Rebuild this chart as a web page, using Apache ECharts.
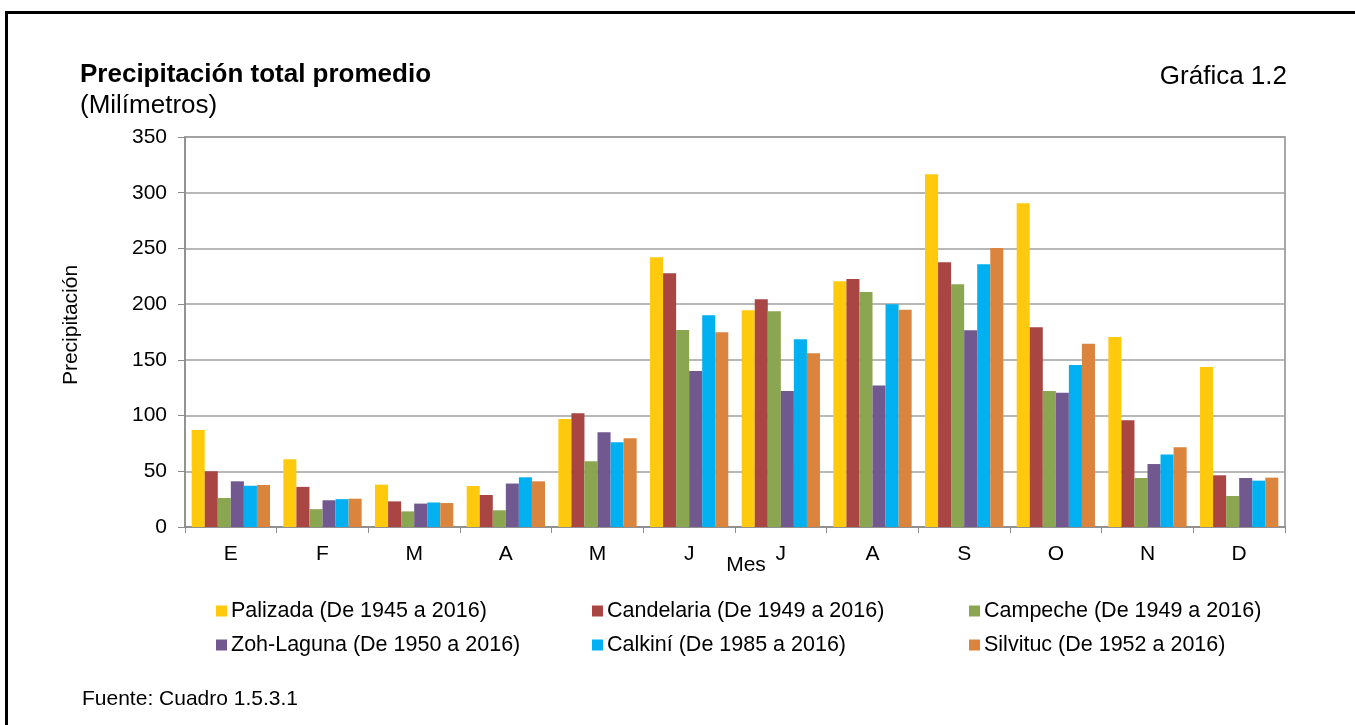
<!DOCTYPE html>
<html>
<head>
<meta charset="utf-8">
<script src="https://cdn.jsdelivr.net/npm/echarts@6/dist/echarts.min.js"></script>
<style>
  html, body { margin: 0; padding: 0; background: #fff; }
  #frame { position: absolute; left: 5px; top: 11px; width: 1400px; height: 800px; border-top: 3px solid #000; border-left: 3px solid #000; box-sizing: border-box; }
  #chart { position: absolute; left: 0; top: 0; width: 1355px; height: 725px; }
</style>
</head>
<body>
<div id="frame"></div>
<div id="chart"></div>
<script>
const months = ['E', 'F', 'M', 'A', 'M', 'J', 'J', 'A', 'S', 'O', 'N', 'D'];
const palizada   = [87, 60.7, 38, 36.8, 97, 242, 194.5, 220.5, 316.5, 290.5, 170.5, 143.6];
const candelaria = [50, 36, 23, 28.7, 102, 227.7, 204.3, 222.6, 237.5, 179.2, 95.7, 46.4];
const campeche   = [26, 16, 14, 15, 59, 176.8, 193.6, 210.9, 217.8, 122, 44, 27.8];
const zohLaguna  = [41, 24, 21, 39, 85, 140, 122, 127, 176.5, 120.5, 56.5, 44];
const calkini    = [37, 25, 22, 44.6, 76, 190, 168.4, 200, 235.7, 145.4, 65, 41.6];
const silvituc   = [37.7, 25.4, 21.5, 41, 79.6, 174.7, 155.9, 195, 250.4, 164.5, 71.5, 44.3];
const seriesNames = [
  'Palizada (De 1945 a 2016)',
  'Candelaria (De 1949 a 2016)',
  'Campeche (De 1949 a 2016)',
  'Zoh-Laguna (De 1950 a 2016)',
  'Calkiní (De 1985 a 2016)',
  'Silvituc (De 1952 a 2016)'
];
const seriesData = [palizada, candelaria, campeche, zohLaguna, calkini, silvituc];
const colors = ['#FFC90E', '#A94543', '#8BA650', '#71588F', '#00B0F0', '#DB843D'];
const yTicks = { min: 0, max: 350, interval: 50 };

const FONT = '"Liberation Sans", Arial, sans-serif';
const legendPos = [
  { left: 216, top: 600 }, { left: 592, top: 600 }, { left: 969, top: 600 },
  { left: 216, top: 634 }, { left: 592, top: 634 }, { left: 969, top: 634 }
];

const chart = echarts.init(document.getElementById('chart'));
chart.setOption({
  animation: false,
  color: colors,
  textStyle: { fontFamily: FONT },
  graphic: [
    { type: 'text', left: 80, top: 62, style: { text: 'Precipitación total promedio', font: 'bold 26px ' + FONT, fill: '#000' } },
    { type: 'text', left: 80, top: 93, style: { text: '(Milímetros)', font: '26px ' + FONT, fill: '#000' } },
    { type: 'text', right: 68, top: 64, style: { text: 'Gráfica 1.2', font: '26px ' + FONT, fill: '#000' } },
    { type: 'text', left: 82, top: 689, style: { text: 'Fuente: Cuadro 1.5.3.1', font: '21px ' + FONT, fill: '#000' } }
  ],
  legend: legendPos.map((p, i) => ({
    data: [seriesNames[i]],
    left: p.left, top: p.top,
    itemWidth: 11, itemHeight: 11, itemGap: 0,
    icon: 'rect',
    padding: 0,
    textStyle: { fontSize: 21.5, color: '#000', padding: [0, 0, 0, -1], fontFamily: FONT }
  })),
  grid: { left: 185, right: 70, top: 137, bottom: 198, show: true, borderColor: '#8c8c8c', borderWidth: 1.5, backgroundColor: 'transparent' },
  xAxis: {
    type: 'category',
    data: months,
    name: 'Mes',
    nameLocation: 'middle',
    nameGap: 28,
    nameMoveOverlap: false,
    nameTextStyle: { fontSize: 21, color: '#000', padding: [0, 0, 0, 22] },
    axisLine: { lineStyle: { color: '#8c8c8c', width: 1.5 } },
    axisTick: { show: true, length: 6, lineStyle: { color: '#8c8c8c' } },
    axisLabel: { fontSize: 21, color: '#000', margin: 17 },
    splitLine: { show: false }
  },
  yAxis: {
    type: 'value',
    min: yTicks.min, max: yTicks.max, interval: yTicks.interval,
    name: 'Precipitación',
    nameLocation: 'middle',
    nameGap: 103,
    nameMoveOverlap: false,
    nameTextStyle: { fontSize: 21, color: '#000', padding: [0, 0, 0, 14] },
    axisLine: { show: true, lineStyle: { color: '#8c8c8c', width: 1.5 } },
    axisTick: { show: true, length: 7, lineStyle: { color: '#8c8c8c' } },
    axisLabel: { fontSize: 21, color: '#000', margin: 18 },
    splitLine: { show: true, lineStyle: { color: '#a0a0a0', width: 1.5 } }
  },
  series: seriesData.map((d, i) => ({
    name: seriesNames[i],
    type: 'bar',
    data: d,
    barGap: '0%',
    barCategoryGap: '14.6%',
    itemStyle: { color: colors[i] }
  }))
});
</script>
</body>
</html>
